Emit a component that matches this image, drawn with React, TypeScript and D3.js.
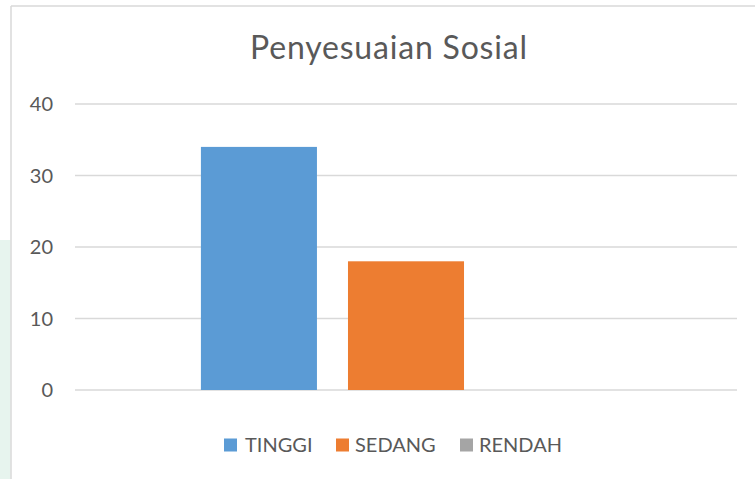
import React from "react";
import * as d3 from "d3";

const title = "Penyesuaian Sosial";
const categories = ["Penyesuaian Sosial"];
const series = ["TINGGI", "SEDANG", "RENDAH"];
const values = [34, 18, 0];
const colors = ["#5B9BD5", "#ED7D31", "#A5A5A5"];
const yTicks = [0, 10, 20, 30, 40];

const W = 755;
const H = 479;
const FONT = "Lato, 'Open Sans', sans-serif";
const TEXT = "#595959";

export default function App() {
  const plotLeft = 75;
  const plotRight = 737;
  const plotTop = 104;
  const plotBottom = 390;

  const y = d3.scaleLinear().domain([0, 40]).range([plotBottom, plotTop]);
  const x0 = d3
    .scaleBand<string>()
    .domain(categories)
    .range([plotLeft, plotRight])
    .paddingInner(0)
    .paddingOuter(0.307);
  const x1 = d3
    .scaleBand<string>()
    .domain(series)
    .range([0, x0.bandwidth()])
    .paddingInner(0.211)
    .paddingOuter(0);

  const legendSquares = [224, 336, 460];
  const legendTexts = [245, 355, 479];

  return (
    <svg
      width={W}
      height={H}
      style={{ position: "absolute", left: 0, top: 0, background: "#fff" }}
    >
      <rect x={0} y={240} width={10.5} height={H - 240} fill="#e7f4ee" />
      <line x1={11} y1={6} x2={W} y2={6} stroke="#d9d9d9" strokeWidth={1.5} />
      <line x1={11} y1={6} x2={11} y2={H} stroke="#d9d9d9" strokeWidth={1.5} />

      <text
        x={388.5}
        y={59}
        textAnchor="middle"
        fontFamily={FONT}
        fontSize={32}
        textLength={277}
        lengthAdjust="spacing"
        fill={TEXT}
      >
        {title}
      </text>

      {yTicks.map((t) => (
        <g key={t}>
          <line
            x1={plotLeft}
            x2={plotRight}
            y1={y(t)}
            y2={y(t)}
            stroke="#d9d9d9"
            strokeWidth={1.5}
          />
          <text
            x={53}
            y={y(t)}
            dy="0.36em"
            textAnchor="end"
            fontFamily={FONT}
            fontSize={20}
            fill={TEXT}
          >
            {t}
          </text>
        </g>
      ))}

      {categories.map((c) => (
        <g key={c} transform={`translate(${x0(c)},0)`}>
          {series.map((s, i) => (
            <rect
              key={s}
              x={x1(s)}
              y={y(values[i])}
              width={x1.bandwidth()}
              height={plotBottom - y(values[i])}
              fill={colors[i]}
            />
          ))}
        </g>
      ))}

      {series.map((s, i) => (
        <g key={s}>
          <rect
            x={legendSquares[i]}
            y={438.5}
            width={13}
            height={13}
            fill={colors[i]}
          />
          <text
            x={legendTexts[i]}
            y={452}
            fontFamily={FONT}
            fontSize={20}
            fill={TEXT}
          >
            {s}
          </text>
        </g>
      ))}
    </svg>
  );
}
